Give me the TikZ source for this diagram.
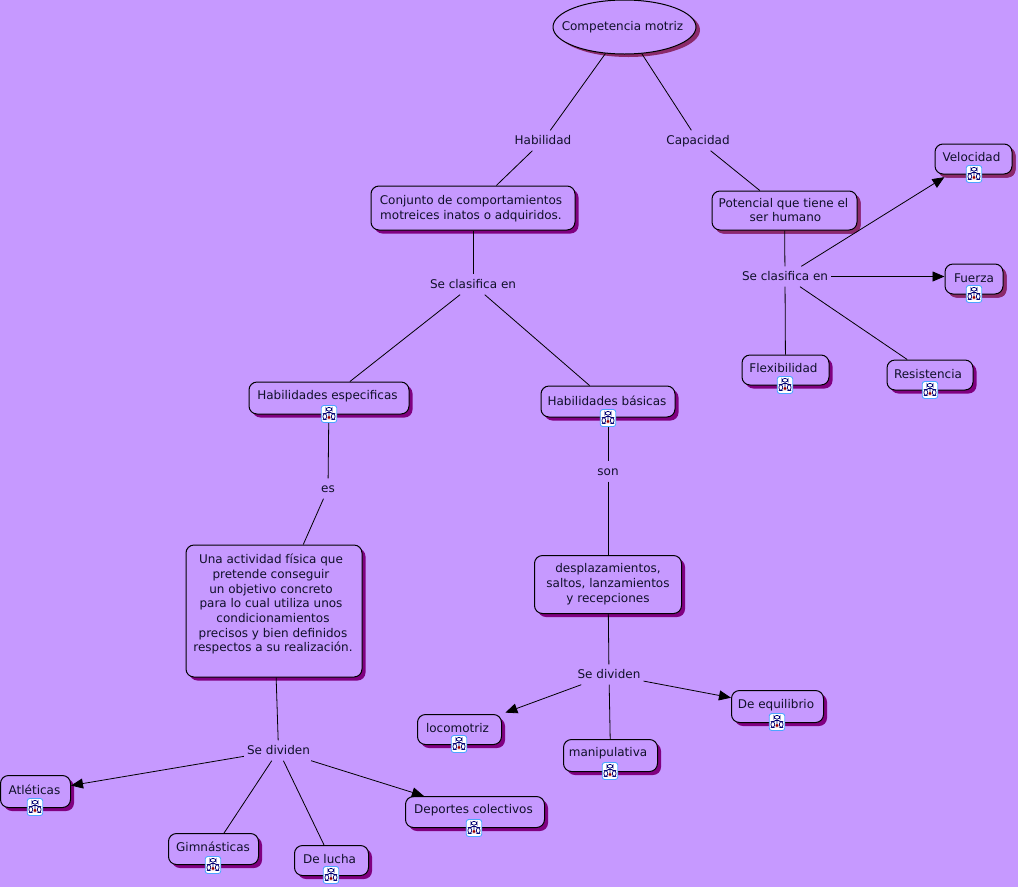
\documentclass[tikz,border=0pt]{standalone}
\usepackage{fontspec}
\setmainfont{DejaVu Sans}
\usetikzlibrary{shapes.geometric,shadows,arrows.meta}
\definecolor{bgc}{HTML}{C699FF}
\definecolor{shp}{HTML}{800080}
\definecolor{shr}{HTML}{8B2A6A}
\definecolor{ink}{HTML}{10102A}
\newcommand{\lbl}[3]{\raisebox{\numexpr#2-5\relax pt}[0pt][0pt]{\hspace*{#1pt}\begin{tabular}{@{}c@{}}#3\end{tabular}}}
\newcommand{\tsp}{\hspace*{4pt}}
\tikzset{
  x=1pt,y=-1pt,
  every node/.style={font=\fontsize{12}{14.67}\selectfont,text=ink},
  boxn/.style={rectangle,rounded corners=8pt,draw=black,line width=1pt,fill=bgc,inner sep=0pt,
    general shadow={fill=shp,shadow xshift=3.5pt,shadow yshift=-3.5pt}},
  boxr/.style={boxn,general shadow={fill=shr,shadow xshift=3.5pt,shadow yshift=-3.5pt}},
  oval/.style={ellipse,draw=black,line width=1pt,fill=bgc,inner sep=0pt,
    general shadow={fill=shr,shadow xshift=4pt,shadow yshift=-3pt}},
  word/.style={rectangle,inner xsep=3pt,inner ysep=0pt,minimum height=20pt,fill=none,text depth=1pt,text height=8pt},
  link/.style={draw=black,line width=.8pt},
  arr/.style={link,-{Triangle[length=12pt,width=10pt]}},
  treeicon/.style={rectangle,rounded corners=2.5pt,draw=blue!50!cyan!70!white,line width=.9pt,fill=white,
    minimum width=15.5pt,minimum height=17pt,inner sep=0pt,
    path picture={
      \begin{scope}[shift={(path picture bounding box.center)},x=1pt,y=-1pt]
        \draw[draw=blue!45!black,line width=.7pt] (0,-3) -- (0,-1.5) (-4,-.5) -- (-4,-1.5) -- (4,-1.5) -- (4,-.5) (0,-1.5) -- (0,2);
        \draw[draw=blue!45!black,line width=.7pt,fill=white] (-3,-6.5) rectangle (3,-3);
        \draw[draw=blue!45!black,line width=.7pt,fill=white] (-6,-.5) rectangle (-2.4,5.5);
        \draw[draw=blue!45!black,line width=.7pt,fill=white] (2.4,-.5) rectangle (6,5.5);
        \fill[red!60!black] (-1.4,2) rectangle (1.4,5);
      \end{scope}}},
}
\begin{document}
\begin{tikzpicture}
\useasboundingbox (0,0) rectangle (1018,887);
\fill[bgc] (0,0) rectangle (1018,887);
\node[oval,minimum width=143pt,minimum height=54pt] (comp) at (624.5,27) {\makebox[0pt]{\lbl{-4}{1}{Competencia motriz}}};
\node[boxn,minimum width=204pt,minimum height=44pt] (conj) at (473,208) {\lbl{-4}{1}{Conjunto de comportamientos\\motreices inatos o adquiridos.}};
\node[boxr,minimum width=145pt,minimum height=39pt] (pot) at (784.5,210.5) {\lbl{-2}{1}{Potencial que tiene el\\ \hspace*{4pt}ser humano}};
\node[boxr,minimum width=77pt,minimum height=30pt] (vel) at (973.5,159) {\lbl{-4}{2}{Velocidad}};
\node[boxr,minimum width=58pt,minimum height=30pt] (fue) at (974,279) {\lbl{0}{1}{Fuerza}};
\node[boxn,minimum width=87pt,minimum height=30pt] (fle) at (785.5,370) {\lbl{-4}{2}{Flexibilidad}};
\node[boxn,minimum width=86pt,minimum height=30pt] (res) at (930,375) {\lbl{-4}{1}{Resistencia}};
\node[boxn,minimum width=160pt,minimum height=32pt] (hesp) at (329,398) {\lbl{-3}{3}{Habilidades especificas}};
\node[boxn,minimum width=134pt,minimum height=31pt] (hbas) at (608,401.5) {\lbl{-2}{1}{Habilidades básicas}};
\node[boxn,minimum width=176pt,minimum height=132pt] (una) at (274,611) {\lbl{-2}{8}{Una actividad física que\tsp\\pretende conseguir\tsp\\un objetivo concreto\tsp\\para lo cual utiliza unos\tsp\\condicionamientos\\precisos y bien definidos\\respectos a su realización.}};
\node[boxn,minimum width=147pt,minimum height=58pt] (desp) at (608,584.5) {\lbl{0}{2}{desplazamientos,\\saltos, lanzamientos\\y recepciones}};
\node[boxn,minimum width=84pt,minimum height=30pt] (loco) at (459.5,729.5) {\lbl{-4}{2}{locomotriz}};
\node[boxn,minimum width=94pt,minimum height=32pt] (mani) at (610.5,755.5) {\lbl{-5}{4}{manipulativa}};
\node[boxn,minimum width=92pt,minimum height=32pt] (equi) at (777.5,706.5) {\lbl{-3}{3}{De equilibrio}};
\node[boxn,minimum width=70pt,minimum height=32pt] (atl) at (35.5,791.5) {\lbl{-2}{2}{Atléticas}};
\node[boxn,minimum width=90pt,minimum height=31pt] (gim) at (213.5,849) {\lbl{-1}{2}{Gimnásticas}};
\node[boxn,minimum width=74pt,minimum height=30pt] (luc) at (331.5,860.5) {\lbl{-4}{2}{De lucha}};
\node[boxn,minimum width=139pt,minimum height=31pt] (dep) at (475,812) {\lbl{-3}{3}{Deportes colectivos}};
\node[word] (w1) at (543,140.5) {Habilidad};
\node[word] (w2) at (698,140.5) {Capacidad};
\node[word] (w3) at (473,284.5) {Se clasifica en};
\node[word] (w4) at (785,276.5) {Se clasifica en};
\node[word] (w5) at (328,488.5) {es};
\node[word] (w6) at (608,471.5) {son};
\node[word] (w7) at (609,674.5) {Se dividen};
\node[word] (w8) at (278.5,750.5) {Se dividen};
\draw[link] (comp) -- (w1);
\draw[link] (w1) -- (conj);
\draw[link] (comp) -- (w2);
\draw[link] (w2) -- (pot);
\draw[link] (conj) -- (w3);
\draw[link] (w3) -- (hesp);
\draw[link] (w3) -- (hbas);
\draw[link] (pot) -- (w4);
\draw[arr,shorten >=5pt] (w4) -- (vel);
\draw[arr] (w4.east) -- (w4.east -| fue.west);
\draw[link] (w4) -- (fle);
\draw[link] (w4) -- (res);
\draw[link] (hesp) -- (w5);
\draw[link] (w5) -- (una);
\draw[link] (hbas) -- (w6);
\draw[link] (w6) -- (desp);
\draw[link] (desp) -- (w7);
\draw[arr,shorten >=4pt] (w7) -- (loco);
\draw[link] (w7) -- (mani);
\draw[arr] (w7) -- (equi);
\draw[link] (una) -- (w8);
\draw[arr] (w8) -- (atl);
\draw[link] (w8) -- (gim);
\draw[link] (w8) -- (luc);
\draw[arr] (w8) -- (dep);
\node[treeicon] (i1) at (974,174) {};
\node[treeicon] (i2) at (974,294) {};
\node[treeicon] (i3) at (785,385) {};
\node[treeicon] (i4) at (930,390) {};
\node[treeicon] (i5) at (329,414) {};
\node[treeicon] (i6) at (608,418) {};
\node[treeicon] (i7) at (459,744) {};
\node[treeicon] (i8) at (610,771) {};
\node[treeicon] (i9) at (777,722) {};
\node[treeicon] (i10) at (35,807) {};
\node[treeicon] (i11) at (213,865) {};
\node[treeicon] (i12) at (331,875) {};
\node[treeicon] (i13) at (474,828) {};
\end{tikzpicture}
\end{document}
